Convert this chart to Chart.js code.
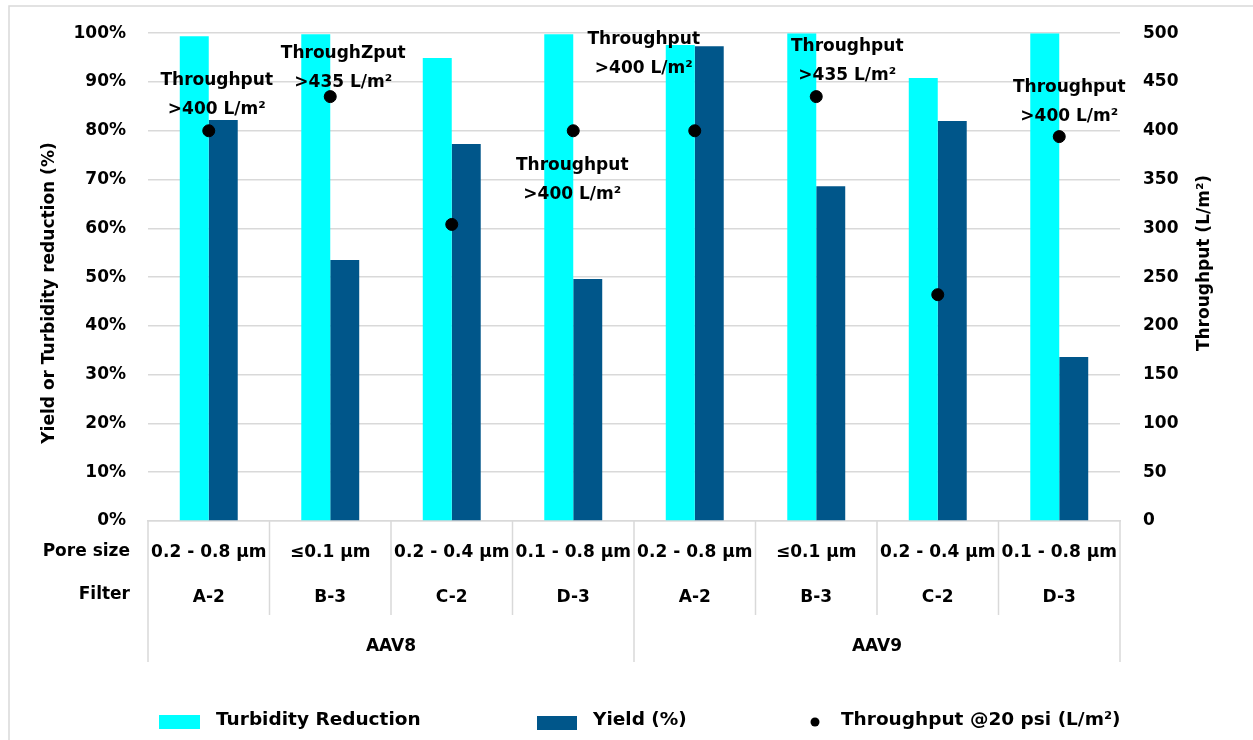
<!DOCTYPE html>
<html lang="en">
<head>
  <meta charset="UTF-8" />
  <title>AAV8 / AAV9 filter comparison</title>
  <script src="https://cdn.jsdelivr.net/npm/chart.js"></script>
  <style>
    html, body {
      margin: 0;
      padding: 0;
      background: #fff;
    }
  </style>
</head>
<body>
  <canvas id="chart" width="1253" height="740"></canvas>

  <script>
    // data
    const filters = ['A-2', 'B-3', 'C-2', 'D-3', 'A-2', 'B-3', 'C-2', 'D-3'];
    const poreSizes = ['0.2 - 0.8 µm', '≤0.1 µm', '0.2 - 0.4 µm', '0.1 - 0.8 µm',
                       '0.2 - 0.8 µm', '≤0.1 µm', '0.2 - 0.4 µm', '0.1 - 0.8 µm'];
    const serotypes = ['AAV8', 'AAV9'];
    const turbidity = [99.4, 99.8, 94.9, 99.8, 97.6, 100, 90.8, 100];
    const yieldPct = [82.2, 53.5, 77.3, 49.6, 97.3, 68.6, 82.0, 33.6];
    const throughput = [400, 435, 304, 400, 400, 435, 232, 394];

    // text boxes next to some of the dots (offsets in px from the dot)
    const notes = [
      { i: 0, lines: ['Throughput', '>400 L/m²'], dx: 8, dy: -50 },
      { i: 1, lines: ['ThroughZput', '>435 L/m²'], dx: 13, dy: -43 },
      { i: 3, lines: ['Throughput', '>400 L/m²'], dx: -1, dy: 35 },
      { i: 4, lines: ['Throughput', '>400 L/m²'], dx: -51, dy: -91 },
      { i: 5, lines: ['Throughput', '>435 L/m²'], dx: 31, dy: -50 },
      { i: 7, lines: ['Throughput', '>400 L/m²'], dx: 10, dy: -49 }
    ];

    const CYAN = '#00FFFF';
    const NAVY = '#00568A';
    const GRID = '#d9d9d9';
    const FONT = "bold 17px 'DejaVu Sans'";
    const tickFont = { family: 'DejaVu Sans', size: 17, weight: 'bold' };

    const decor = {
      id: 'decor',
      beforeDraw(chart) {
        const c = chart.ctx;
        c.save();
        c.fillStyle = '#fff';
        c.fillRect(0, 0, chart.width, chart.height);
        c.strokeStyle = GRID;
        c.lineWidth = 1.5;
        c.strokeRect(9, 6, chart.width + 20, chart.height + 20);
        c.restore();
      },
      afterDatasetsDraw(chart) {
        const c = chart.ctx;
        const dots = chart.getDatasetMeta(0).data;
        c.save();
        c.font = FONT;
        c.fillStyle = '#000';
        c.textAlign = 'center';
        c.textBaseline = 'middle';
        notes.forEach(n => {
          const p = dots[n.i];
          n.lines.forEach((t, k) => c.fillText(t, p.x + n.dx, p.y + n.dy + k * 29));
        });
        c.restore();
      },
      afterDraw(chart) {
        const c = chart.ctx;
        const x = chart.scales.x;
        const area = chart.chartArea;
        const base = area.bottom;
        const half = (x.getPixelForValue(1) - x.getPixelForValue(0)) / 2;
        const perGroup = filters.length / serotypes.length;

        c.save();
        // category table under the plot
        c.strokeStyle = GRID;
        c.lineWidth = 1.5;
        for (let i = 0; i <= filters.length; i++) {
          const px = i < filters.length ? x.getPixelForValue(i) - half : x.getPixelForValue(i - 1) + half;
          const len = i % perGroup === 0 ? 141 : 94;
          c.beginPath();
          c.moveTo(px, base);
          c.lineTo(px, base + len);
          c.stroke();
        }

        c.font = FONT;
        c.fillStyle = '#000';
        c.textAlign = 'center';
        c.textBaseline = 'middle';
        filters.forEach((f, i) => {
          const px = x.getPixelForValue(i);
          c.fillText(poreSizes[i], px, base + 32);
          c.fillText(f, px, base + 77);
        });
        serotypes.forEach((s, g) => {
          const a = x.getPixelForValue(g * perGroup) - half;
          const b = x.getPixelForValue((g + 1) * perGroup - 1) + half;
          c.fillText(s, (a + b) / 2, base + 126);
        });
        c.textAlign = 'right';
        c.fillText('Pore size', area.left - 18, base + 31);
        c.fillText('Filter', area.left - 18, base + 74);

        // axis titles, both read bottom to top
        c.textAlign = 'center';
        c.save();
        c.translate(50, 293);
        c.rotate(-Math.PI / 2);
        c.fillText('Yield or Turbidity reduction (%)', 0, 0);
        c.restore();
        c.save();
        c.translate(1205, 263);
        c.rotate(-Math.PI / 2);
        c.fillText('Throughput (L/m²)', 0, 0);
        c.restore();

        // legend
        const ds = chart.data.datasets;
        c.font = "bold 18.5px 'DejaVu Sans'";
        c.textAlign = 'left';
        c.fillStyle = CYAN;
        c.fillRect(159, 715, 41, 14);
        c.fillStyle = NAVY;
        c.fillRect(537, 716, 40, 14);
        c.fillStyle = '#000';
        c.beginPath();
        c.arc(815, 722, 4.5, 0, Math.PI * 2);
        c.fill();
        c.fillText(ds[1].label, 216, 720);
        c.fillText(ds[2].label, 593, 720);
        c.fillText(ds[0].label, 841, 720);
        c.restore();
      }
    };

    const ctx = document.getElementById('chart').getContext('2d');
    new Chart(ctx, {
      type: 'bar',
      data: {
        labels: filters,
        datasets: [
          {
            type: 'line',
            label: 'Throughput @20 psi (L/m²)',
            data: throughput,
            yAxisID: 'y1',
            showLine: false,
            pointRadius: 6,
            pointHoverRadius: 6,
            pointBackgroundColor: '#000',
            pointBorderColor: '#000',
            order: 0
          },
          {
            label: 'Turbidity Reduction',
            data: turbidity,
            backgroundColor: CYAN,
            yAxisID: 'y',
            order: 1
          },
          {
            label: 'Yield (%)',
            data: yieldPct,
            backgroundColor: NAVY,
            yAxisID: 'y',
            order: 1
          }
        ]
      },
      options: {
        responsive: false,
        animation: false,
        devicePixelRatio: 1,
        layout: { padding: { top: 28, left: 0, right: 0, bottom: 0 } },
        datasets: {
          bar: { categoryPercentage: 0.477, barPercentage: 1 }
        },
        plugins: {
          legend: { display: false },
          tooltip: { enabled: false }
        },
        scales: {
          x: {
            grid: { display: false, drawTicks: false },
            ticks: { display: false },
            border: { color: GRID, width: 1.5 },
            afterFit(s) { s.height = 219; }
          },
          y: {
            position: 'left',
            min: 0,
            max: 100,
            ticks: {
              stepSize: 10,
              callback: v => v + '%',
              font: tickFont,
              color: '#000',
              padding: 22
            },
            grid: { color: GRID, lineWidth: 1.5, drawTicks: false },
            border: { display: false },
            afterFit(s) { s.width = 148; }
          },
          y1: {
            position: 'right',
            min: 0,
            max: 500,
            ticks: {
              stepSize: 50,
              font: tickFont,
              color: '#000',
              padding: 23
            },
            grid: { display: false, drawTicks: false },
            border: { display: false },
            afterFit(s) { s.width = 133; }
          }
        }
      },
      plugins: [decor]
    });
  </script>
</body>
</html>
